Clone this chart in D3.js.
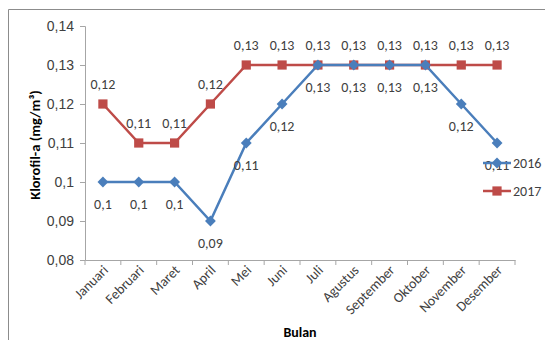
<!DOCTYPE html>
<html>
<head>
<meta charset="utf-8">
<script src="https://cdn.jsdelivr.net/npm/d3@7"></script>
<style>
  html, body { margin: 0; padding: 0; background: #fff; }
  svg { display: block; font-family: Calibri, Carlito, "Liberation Sans", "Open Sans", sans-serif; }
</style>
</head>
<body>
<svg id="chart" width="545" height="340"></svg>
<script>
// Monthly chlorophyll-a concentration (mg/m³)
const months = ["Januari", "Februari", "Maret", "April", "Mei", "Juni", "Juli",
  "Agustus", "September", "Oktober", "November", "Desember"];
const values2016 = [0.10, 0.10, 0.10, 0.09, 0.11, 0.12, 0.13, 0.13, 0.13, 0.13, 0.12, 0.11];
const values2017 = [0.12, 0.11, 0.11, 0.12, 0.13, 0.13, 0.13, 0.13, 0.13, 0.13, 0.13, 0.13];
const yTicks = [0.08, 0.09, 0.10, 0.11, 0.12, 0.13, 0.14];
const seriesNames = ["2016", "2017"];

const svg = d3.select("#chart");
const fmt = v => String(+v.toFixed(2)).replace(".", ",");
const FONT = "14px";

// outer chart frame
svg.append("path")
  .attr("d", "M8.5,345 V9.5 H550")
  .attr("fill", "none").attr("stroke", "#8c8c8c").attr("stroke-width", 1);

const plot = { left: 85, right: 515, top: 26, bottom: 260 };

const x = d3.scaleBand().domain(months).range([plot.left, plot.right]);
const y = d3.scaleLinear().domain([0.08, 0.14]).range([plot.bottom, plot.top]);
const cx = m => x(m) + x.bandwidth() / 2;

// y axis
const yAxis = svg.append("g")
  .attr("transform", `translate(${plot.left},0)`)
  .call(d3.axisLeft(y).tickValues(yTicks).tickSize(5).tickPadding(6).tickFormat(fmt));
yAxis.select(".domain").attr("stroke", "#a6a6a6");
yAxis.selectAll(".tick line").attr("stroke", "#a6a6a6");
yAxis.selectAll(".tick text").attr("fill", "#404040").style("font-size", FONT);

// x axis
const xAxis = svg.append("g")
  .attr("transform", `translate(0,${plot.bottom})`)
  .call(d3.axisBottom(x).tickSize(0).tickFormat(""));
xAxis.select(".domain").attr("stroke", "#a6a6a6");
// tick marks at category boundaries
const bounds = months.map(m => x(m)).concat([plot.right]);
svg.append("g").selectAll("line").data(bounds).join("line")
  .attr("x1", d => d).attr("x2", d => d)
  .attr("y1", plot.bottom).attr("y2", plot.bottom + 5)
  .attr("stroke", "#a6a6a6");
// rotated month labels
svg.append("g").selectAll("text").data(months).join("text")
  .attr("transform", d => `translate(${cx(d) + 6},${plot.bottom + 11}) rotate(-45)`)
  .attr("text-anchor", "end")
  .attr("fill", "#404040")
  .style("font-size", FONT)
  .text(d => d);

// axis titles
svg.append("text")
  .attr("transform", `translate(40,145) rotate(-90)`)
  .attr("text-anchor", "middle")
  .attr("font-weight", "bold")
  .attr("fill", "#000")
  .style("font-size", "14.5px")
  .text("Klorofil-a (mg/m³)");
svg.append("text")
  .attr("x", 300).attr("y", 337)
  .attr("text-anchor", "middle")
  .attr("font-weight", "bold")
  .attr("fill", "#000")
  .style("font-size", "14px")
  .text("Bulan");

const colors = { "2016": "#4a7ebb", "2017": "#be4b48" };
const line = d3.line().x(d => cx(d.m)).y(d => y(d.v));

const data2016 = months.map((m, i) => ({ m, v: values2016[i] }));
const data2017 = months.map((m, i) => ({ m, v: values2017[i] }));

const diamond = d3.symbol().type(d3.symbolDiamond2).size(75);
const square = d3.symbol().type(d3.symbolSquare).size(85);

// 2017 series
svg.append("path").datum(data2017)
  .attr("d", line).attr("fill", "none")
  .attr("stroke", colors["2017"]).attr("stroke-width", 2.5);
svg.append("g").selectAll("path").data(data2017).join("path")
  .attr("transform", d => `translate(${cx(d.m)},${y(d.v)})`)
  .attr("d", square).attr("fill", colors["2017"]);

// 2016 series
svg.append("path").datum(data2016)
  .attr("d", line).attr("fill", "none")
  .attr("stroke", colors["2016"]).attr("stroke-width", 2.5);
svg.append("g").selectAll("path").data(data2016).join("path")
  .attr("transform", d => `translate(${cx(d.m)},${y(d.v)})`)
  .attr("d", diamond).attr("fill", colors["2016"]);

// data labels: 2017 above, 2016 below
svg.append("g").selectAll("text").data(data2017).join("text")
  .attr("x", d => cx(d.m)).attr("y", d => y(d.v) - 15)
  .attr("text-anchor", "middle").attr("fill", "#404040")
  .style("font-size", FONT)
  .text(d => fmt(d.v));
svg.append("g").selectAll("text").data(data2016).join("text")
  .attr("x", d => cx(d.m)).attr("y", d => y(d.v) + 27)
  .attr("text-anchor", "middle").attr("fill", "#404040")
  .style("font-size", FONT)
  .text(d => fmt(d.v));

// legend
const legend = svg.append("g");
seriesNames.forEach((name, i) => {
  const ly = 163 + i * 28;
  legend.append("line")
    .attr("x1", 483).attr("x2", 511).attr("y1", ly).attr("y2", ly)
    .attr("stroke", colors[name]).attr("stroke-width", 2.5);
  legend.append("path")
    .attr("transform", `translate(497,${ly})`)
    .attr("d", i === 0 ? diamond : square)
    .attr("fill", colors[name]);
  legend.append("text")
    .attr("x", 513).attr("y", ly + 5)
    .attr("fill", "#404040")
    .style("font-size", FONT)
    .text(name);
});
</script>
</body>
</html>
